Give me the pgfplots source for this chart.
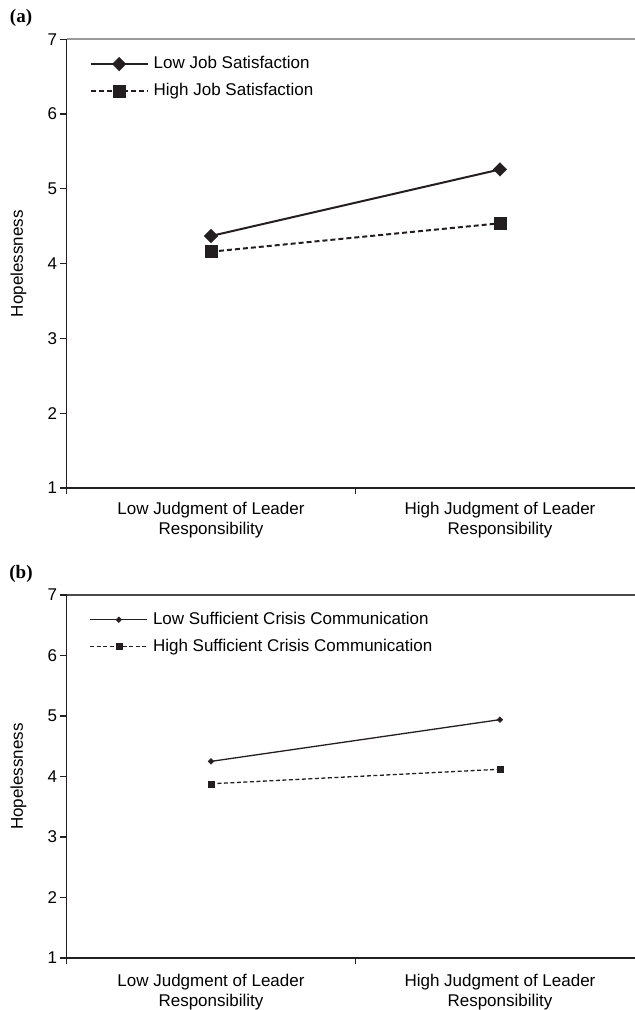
\documentclass[border=0pt]{standalone}
\usepackage{fontspec}
\setmainfont{Liberation Sans}
\newfontfamily\tnr{Liberation Serif}
\usepackage{pgfplots}
\pgfplotsset{compat=1.18}
\definecolor{ink}{HTML}{231F20}
\definecolor{topa}{HTML}{9A9A9A}
\definecolor{topb}{HTML}{4A4A4A}
\newcommand{\lbl}{\fontsize{17bp}{20bp}\selectfont}
\pgfplotsset{
 panel/.style={
  scale only axis,
  width=568bp,
  xmin=-0.5, xmax=1.4655,
  ymin=1, ymax=7,
  ytick={1,2,3,4,5,6,7},
  axis x line*=bottom,
  axis y line*=left,
  axis line style={-, ink, line width=1.5bp},
  every tick/.style={ink, line width=1.2bp},
  tick align=outside,
  major tick length=6bp,
  xtick={-0.5,0.5},
  xticklabels={,},
  extra x ticks={0,1},
  extra x tick labels={{Low Judgment of Leader\\Responsibility},{High Judgment of Leader\\Responsibility}},
  extra x tick style={major tick length=0pt},
  xticklabel style={align=center, font=\lbl, yshift=-11bp},
  yticklabel style={font=\lbl},
  /pgf/number format/assume math mode=true,
  ylabel={Hopelessness},
  ylabel style={font=\lbl, at={(axis description cs:-0.0845,0.5)}, anchor=center},
  clip=false,
  legend cell align=left,
  legend style={draw=none, fill=none, at={(axis description cs:0,1)}, anchor=north west,
    xshift=23bp, yshift=-17bp, inner sep=0pt, row sep=12bp, column sep=5bp, font=\lbl,
    nodes={inner sep=0pt, text height=12bp, text depth=3bp}},
  legend image code/.code={\draw[mark repeat=2, mark phase=2, ##1] plot coordinates {(0bp,0bp) (28.5bp,0bp) (57bp,0bp)};},
 }
}
\begin{document}
\begin{tikzpicture}
\path[use as bounding box] (0,0) rectangle (635bp,-1010bp);
\node[font=\tnr\bfseries\fontsize{19bp}{20bp}\selectfont] at (21bp,-18bp) {(a)};
\node[font=\tnr\bfseries\fontsize{19bp}{20bp}\selectfont] at (21bp,-574bp) {(b)};
\begin{axis}[panel, at={(66.5bp,-488bp)}, anchor=south west, height=448.7bp]
\draw[topa, line width=2bp] (rel axis cs:0,1) -- (rel axis cs:1,1);
\addplot[ink, line width=2bp, mark=diamond*, mark size=6.7bp, mark options={solid, line width=0.5bp, xscale=1.33}] coordinates {(0,4.37) (1,5.26)};
\addlegendentry{Low Job Satisfaction}
\addplot[ink, line width=2bp, dash pattern=on 5bp off 3bp, mark=square*, mark size=6bp, mark options={solid, line width=0.5bp}] coordinates {(0,4.16) (1,4.54)};
\addlegendentry{High Job Satisfaction}
\end{axis}
\begin{axis}[panel, at={(66.5bp,-958bp)}, anchor=south west, height=363bp, xticklabel style={yshift=-2bp}]
\draw[topb, line width=1.6bp] (rel axis cs:0,1) -- (rel axis cs:1,1);
\addplot[ink, line width=1.3bp, mark=diamond*, mark size=2.8bp, mark options={solid, line width=0.5bp, xscale=1.33}] coordinates {(0,4.25) (1,4.94)};
\addlegendentry{Low Sufficient Crisis Communication}
\addplot[ink, line width=1.3bp, dash pattern=on 4bp off 2.5bp, mark=square*, mark size=3bp, mark options={solid, line width=0.5bp}] coordinates {(0,3.88) (1,4.12)};
\addlegendentry{High Sufficient Crisis Communication}
\end{axis}
\end{tikzpicture}
\end{document}
